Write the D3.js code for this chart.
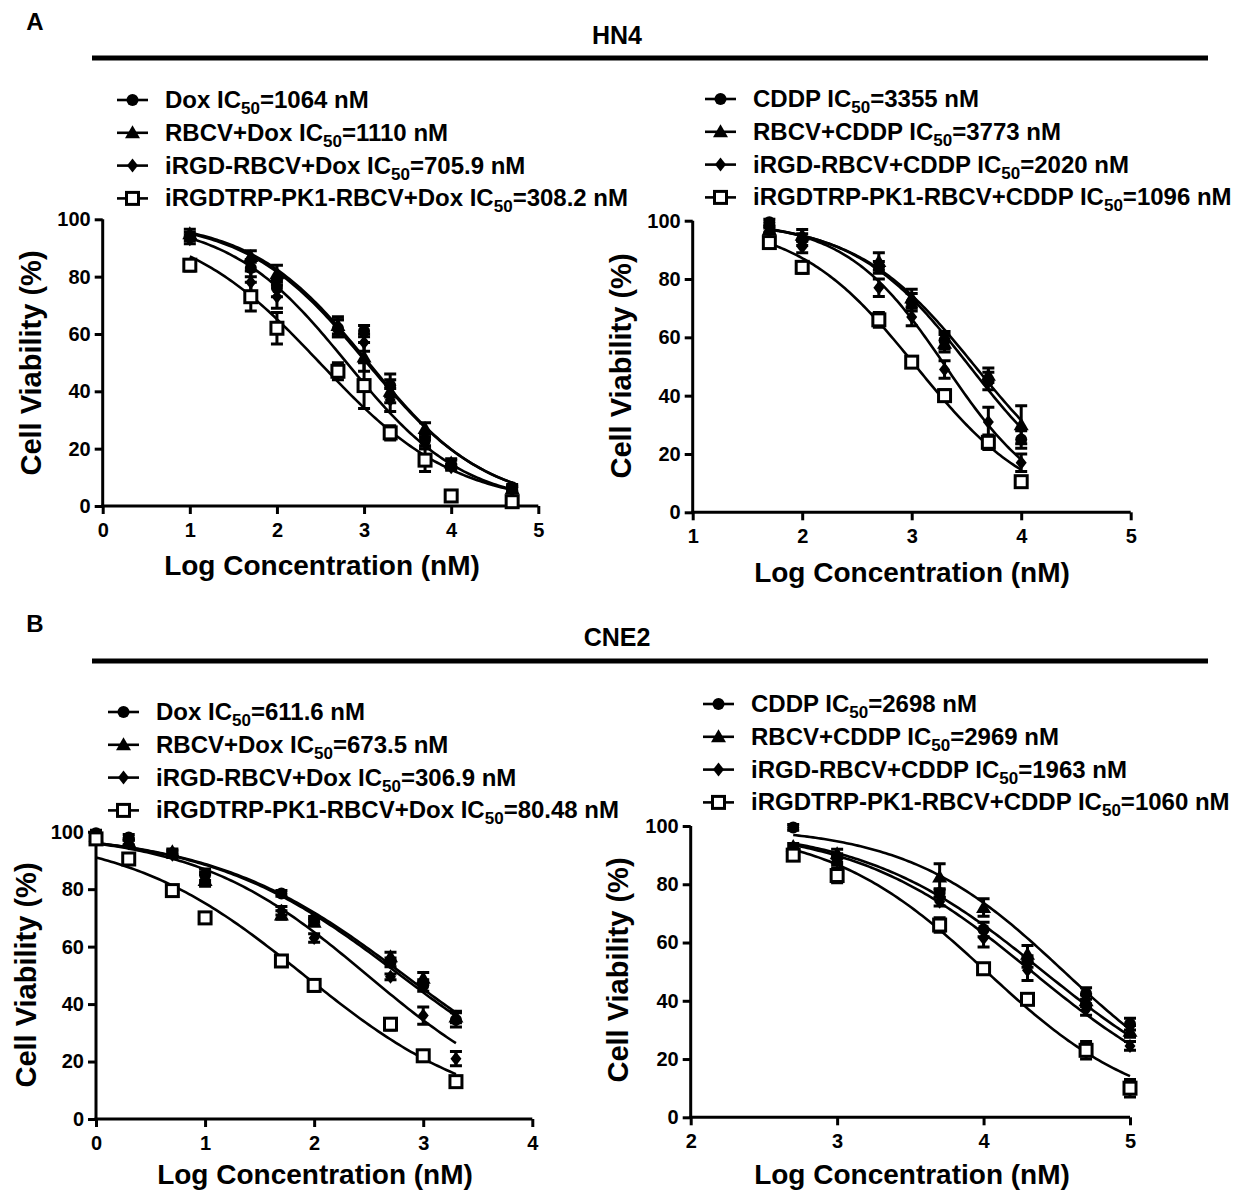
<!DOCTYPE html>
<html>
<head>
<meta charset="utf-8">
<script src="https://cdn.jsdelivr.net/npm/d3@7"></script>
<style>
  body { margin: 0; background: #fff; }
  svg text { font-family: "Liberation Sans", Arial, sans-serif; font-weight: bold; fill: #000; }
</style>
</head>
<body>
<div id="chart"></div>
<script>
// series names and marker shapes
const doxNames = ["Dox", "RBCV+Dox", "iRGD-RBCV+Dox", "iRGDTRP-PK1-RBCV+Dox"];
const cddpNames = ["CDDP", "RBCV+CDDP", "iRGD-RBCV+CDDP", "iRGDTRP-PK1-RBCV+CDDP"];
const markerShapes = ["circle", "triangle", "diamond", "square"];
const yTicks = [0, 20, 40, 60, 80, 100];

// HN4 / Dox
const hn4DoxLogConc = [1, 1.7, 2, 2.7, 3, 3.3, 3.7, 4, 4.7];
const hn4DoxViability = [
  [94, 83, 76, 62, 61, 42, 23, 14.5, 6.5],
  [95, 87, 81, 63, 52, 40, 27, 15, 6],
  [93, 78, 73, 62, 57, 37, 22, 13.5, 5.5],
  [84, 73, 62, 47, 42, 25.5, 16, 3.5, 1.5]
];
const hn4DoxErr = [
  [1.5, 3, 3, 3, 2, 4, 2, 1.5, 1],
  [1.5, 2, 3, 3, 5, 4, 2, 1.5, 1],
  [1.5, 4, 4, 3, 3, 4, 2, 1, 1],
  [2, 5, 5.5, 3, 8, 2.5, 4, 1.5, 1]
];
const hn4DoxIC50 = ["1064", "1110", "705.9", "308.2"];
const hn4DoxFitMid = [3.03, 3.05, 2.8, 2.49];
const hn4DoxFitHill = [0.63, 0.64, 0.64, 0.555];

// HN4 / CDDP
const hn4CddpLogConc = [1.7, 2, 2.7, 3, 3.3, 3.7, 4];
const hn4CddpViability = [
  [99.5, 93.5, 84, 72, 59, 45, 25],
  [97, 95, 86, 73.5, 58, 47, 30],
  [96.5, 91, 77, 67, 49, 31, 17],
  [92.5, 84, 66, 51.5, 40, 24, 10.5]
];
const hn4CddpErr = [
  [1, 2, 2, 3, 3, 3, 3],
  [1, 2, 3, 3, 3, 2.5, 6.5],
  [1, 2, 3, 3, 3, 5, 3],
  [1.5, 2, 2.5, 1.5, 2, 2.5, 1.5]
];
const hn4CddpIC50 = ["3355", "3773", "2020", "1096"];
const hn4CddpFitMid = [3.53, 3.58, 3.31, 3.04];
const hn4CddpFitHill = [0.83, 0.8, 0.95, 0.8];

// CNE2 / Dox
const cne2DoxLogConc = [0, 0.3, 0.7, 1, 1.7, 2, 2.7, 3, 3.3];
const cne2DoxViability = [
  [99.5, 98, 92.5, 85, 78.5, 69.5, 54.5, 46.5, 34.5],
  [98.5, 96.5, 93, 83, 71, 68.5, 56.5, 49, 35.5],
  [98, 96, 92, 84, 72.5, 63, 49.5, 36, 21],
  [97.5, 90.5, 79.5, 70, 55, 46.5, 33, 22, 13]
];
const cne2DoxErr = [
  [1, 1, 1, 2, 1, 1, 1.5, 2, 2.5],
  [1, 1, 1, 2, 1.5, 1, 1.5, 2, 2],
  [1, 1, 1, 2, 1.5, 1.5, 1, 3, 2.5],
  [1, 1, 1, 1, 1, 2, 2, 1, 1]
];
const cne2DoxIC50 = ["611.6", "673.5", "306.9", "80.48"];
const cne2DoxFitMid = [2.79, 2.83, 2.49, 1.91];
const cne2DoxFitHill = [0.495, 0.49, 0.55, 0.527];

// CNE2 / CDDP
const cne2CddpLogConc = [2.7, 3, 3.7, 4, 4.3, 4.7, 5];
const cne2CddpViability = [
  [99.5, 89, 77, 64.5, 53.5, 42.5, 32],
  [93, 90.5, 82.5, 72, 56, 40, 29.5],
  [92, 88, 74, 61.5, 50.5, 37, 24.5],
  [90, 83, 66, 51, 40.5, 23, 10]
];
const cne2CddpErr = [
  [1, 1.5, 1.5, 2.5, 2, 2, 2],
  [1, 1.5, 4.5, 3, 3, 2, 2],
  [1, 1.5, 1.5, 3, 3.5, 2, 1.5],
  [1, 2.5, 2.5, 1, 1, 3, 3]
];
const cne2CddpIC50 = ["2698", "2969", "1963", "1060"];
const cne2CddpFitMid = [4.41, 4.55, 4.33, 4.02];
const cne2CddpFitHill = [0.7, 0.81, 0.71, 0.8];

const panels = [
  { x: hn4DoxLogConc, y: hn4DoxViability, err: hn4DoxErr, ic50: hn4DoxIC50, mid: hn4DoxFitMid, hill: hn4DoxFitHill,
    names: doxNames, xDomain: [0, 5], xTicks: [0, 1, 2, 3, 4, 5],
    box: { l: 102.7, r: 538.3, t: 219.3, b: 506 },
    legend: { x: 117, y: 100 }, xTitle: { x: 322, y: 575 }, yTitle: { x: 41, y: 363 } },
  { x: hn4CddpLogConc, y: hn4CddpViability, err: hn4CddpErr, ic50: hn4CddpIC50, mid: hn4CddpFitMid, hill: hn4CddpFitHill,
    names: cddpNames, xDomain: [1, 5], xTicks: [1, 2, 3, 4, 5],
    box: { l: 692.7, r: 1130.7, t: 220.7, b: 512.3 },
    legend: { x: 705, y: 99 }, xTitle: { x: 912, y: 582 }, yTitle: { x: 631, y: 366 } },
  { x: cne2DoxLogConc, y: cne2DoxViability, err: cne2DoxErr, ic50: cne2DoxIC50, mid: cne2DoxFitMid, hill: cne2DoxFitHill,
    names: doxNames, xDomain: [0, 4], xTicks: [0, 1, 2, 3, 4],
    box: { l: 96, r: 532.3, t: 831.7, b: 1119 },
    legend: { x: 108, y: 712 }, xTitle: { x: 315, y: 1184 }, yTitle: { x: 36, y: 975 } },
  { x: cne2CddpLogConc, y: cne2CddpViability, err: cne2CddpErr, ic50: cne2CddpIC50, mid: cne2CddpFitMid, hill: cne2CddpFitHill,
    names: cddpNames, xDomain: [2, 5], xTicks: [2, 3, 4, 5],
    box: { l: 690.7, r: 1130, t: 826, b: 1117.3 },
    legend: { x: 703, y: 704 }, xTitle: { x: 912, y: 1184 }, yTitle: { x: 628, y: 970 } }
];

const W = 1240, H = 1191;
const svg = d3.select("#chart").append("svg").attr("width", W).attr("height", H);

// section headers
function header(letter, title, yText, yBar) {
  svg.append("text").attr("x", 35).attr("y", yText - 6).attr("text-anchor", "middle")
    .style("font-size", "24px").text(letter);
  svg.append("text").attr("x", 617).attr("y", yText + 8).attr("text-anchor", "middle")
    .style("font-size", "25px").text(title);
  svg.append("rect").attr("x", 92).attr("y", yBar - 2.5).attr("width", 1116).attr("height", 5).attr("fill", "#000");
}
header("A", "HN4", 36, 58);
header("B", "CNE2", 638, 661);

function drawMarker(g, shape, cx, cy) {
  if (shape === "circle") {
    g.append("circle").attr("cx", cx).attr("cy", cy).attr("r", 6).attr("fill", "#000");
  } else if (shape === "triangle") {
    g.append("path").attr("d", `M${cx},${cy - 7.5}L${cx + 7.5},${cy + 5.5}L${cx - 7.5},${cy + 5.5}Z`).attr("fill", "#000");
  } else if (shape === "diamond") {
    g.append("path").attr("d", `M${cx},${cy - 7}L${cx + 5.5},${cy}L${cx},${cy + 7}L${cx - 5.5},${cy}Z`).attr("fill", "#000");
  } else {
    g.append("rect").attr("x", cx - 6).attr("y", cy - 6).attr("width", 12).attr("height", 12)
      .attr("fill", "#fff").attr("stroke", "#000").attr("stroke-width", 3);
  }
}

panels.forEach(p => {
  const x = d3.scaleLinear().domain(p.xDomain).range([p.box.l, p.box.r]);
  const y = d3.scaleLinear().domain([0, 100]).range([p.box.b, p.box.t]);
  const g = svg.append("g");

  // axes
  const xAxis = g.append("g").attr("transform", `translate(0,${p.box.b})`)
    .call(d3.axisBottom(x).tickValues(p.xTicks).tickFormat(d3.format("d")).tickSize(8).tickSizeOuter(0).tickPadding(9));
  const yAxis = g.append("g").attr("transform", `translate(${p.box.l},0)`)
    .call(d3.axisLeft(y).tickValues(yTicks).tickSize(8).tickSizeOuter(0).tickPadding(4));
  [xAxis, yAxis].forEach(a => {
    a.select(".domain").attr("stroke-width", 3).attr("stroke", "#000");
    a.selectAll(".tick line").attr("stroke-width", 3).attr("stroke", "#000");
    a.selectAll(".tick text").style("font-size", "20px").style("font-family", "Liberation Sans, Arial, sans-serif")
      .style("font-weight", "bold").attr("fill", "#000");
  });
  xAxis.select(".domain").attr("d", `M${p.box.l - 1.5},0H${p.box.r}`);
  yAxis.select(".domain").attr("d", `M0,${p.box.b + 1.5}V${p.box.t}`);

  // titles
  g.append("text").attr("x", p.xTitle.x).attr("y", p.xTitle.y).attr("text-anchor", "middle")
    .style("font-size", "28px").text("Log Concentration (nM)");
  g.append("text").attr("transform", `translate(${p.yTitle.x},${p.yTitle.y}) rotate(-90)`)
    .attr("text-anchor", "middle").style("font-size", "29px").text("Cell Viability (%)");

  // fitted curves
  p.names.forEach((name, i) => {
    const x0 = d3.min(p.x), x1 = d3.max(p.x);
    const xs = d3.range(x0, x1 + 1e-9, (x1 - x0) / 120);
    const fit = v => 100 / (1 + Math.pow(10, (v - p.mid[i]) * p.hill[i]));
    g.append("path").datum(xs)
      .attr("d", d3.line().x(d => x(d)).y(d => y(fit(d))))
      .attr("fill", "none").attr("stroke", "#000").attr("stroke-width", 2.6);
  });

  // error bars + points
  p.names.forEach((name, i) => {
    p.x.forEach((xv, j) => {
      const v = p.y[i][j], e = p.err[i][j];
      const cx = x(xv);
      if (e > 0) {
        const yt = y(v + e), yb = y(v - e);
        g.append("path").attr("d", `M${cx},${yt}V${yb}M${cx - 6},${yt}H${cx + 6}M${cx - 6},${yb}H${cx + 6}`)
          .attr("stroke", "#000").attr("stroke-width", 3).attr("fill", "none");
      }
      drawMarker(g, markerShapes[i], cx, y(v));
    });
  });

  // legend
  p.names.forEach((name, i) => {
    const ly = p.legend.y + i * 32.8;
    g.append("line").attr("x1", p.legend.x).attr("x2", p.legend.x + 31).attr("y1", ly).attr("y2", ly)
      .attr("stroke", "#000").attr("stroke-width", 2.6);
    drawMarker(g, markerShapes[i], p.legend.x + 15.5, ly);
    const t = g.append("text").attr("x", p.legend.x + 48).attr("y", ly + 8).style("font-size", "24px");
    t.append("tspan").text(name + " IC");
    t.append("tspan").attr("dy", 6).style("font-size", "17px").text("50");
    t.append("tspan").attr("dy", -6).text("=" + p.ic50[i] + " nM");
  });
});
</script>
</body>
</html>
